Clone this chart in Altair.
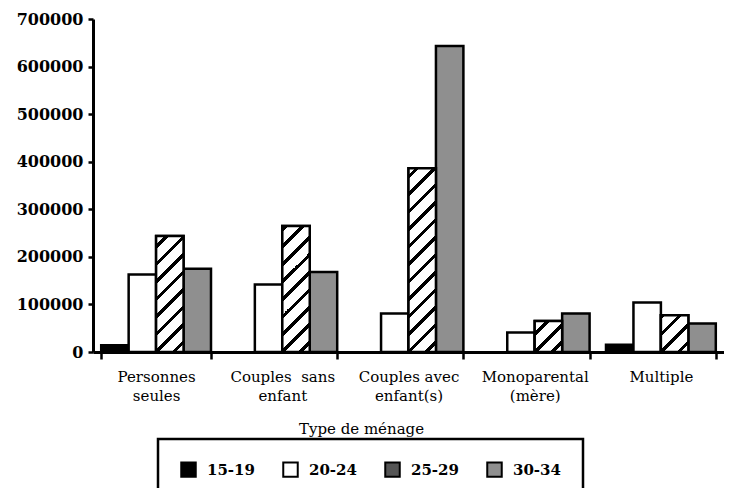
import altair as alt
import pandas as pd

categories = ["Personnes seules", "Couples sans enfant", "Couples avec enfant(s)",
              "Monoparental (mère)", "Multiple"]
label_lines = [["Personnes", "seules"], ["Couples\u00a0\u00a0sans", "enfant"],
               ["Couples avec", "enfant(s)"], ["Monoparental", "(mère)"], ["Multiple"]]
ages = ["15-19", "20-24", "25-29", "30-34"]
v_15_19 = [14000, 0, 0, 0, 15000]
v_20_24 = [163000, 142000, 81000, 41000, 104000]
v_25_29 = [244000, 265000, 386000, 65000, 77000]
v_30_34 = [175000, 168000, 643000, 81000, 60000]
y_ticks = [0, 100000, 200000, 300000, 400000, 500000, 600000, 700000]

W, H = 631, 333
Y_MAX = 700000
P_IN, P_OUT = 0.13, 0.065

series = [v_15_19, v_20_24, v_25_29, v_30_34]
rows = []
for a, vals in zip(ages, series):
    for c, v in zip(categories, vals):
        rows.append({"Type": c, "Age": a, "Valeur": v})
df = pd.DataFrame(rows)

# diagonal hatching for the 25-29 bars, as a linear gradient in bounding-box units
step = W / (len(categories) - P_IN + 2 * P_OUT)
bar_w = step * (1 - P_IN) / len(ages)
PERIOD, HALF = 17.5, 2.3


def hatch(value):
    w = bar_w
    h = max(value / Y_MAX * H, 1.0)
    s = w + h
    stops = []
    c = h
    while c - PERIOD > -HALF:
        c -= PERIOD
    while c - HALF < s:
        a = max(0.0, (c - HALF) / s)
        b = min(1.0, (c + HALF) / s)
        if b > a:
            stops += [{"offset": a, "color": "white"}, {"offset": a, "color": "black"},
                      {"offset": b, "color": "black"}, {"offset": b, "color": "white"}]
        c += PERIOD
    stops = [{"offset": 0, "color": "white"}] + stops + [{"offset": 1, "color": "white"}]
    d = w * w + h * h
    return {"gradient": "linear", "x1": 0, "y1": 0,
            "x2": (w + h) * w / d, "y2": (w + h) * h / d, "stops": stops}


hrows = [{"Type": c, "Age": "25-29", "Valeur": v, "grad": hatch(v)}
         for c, v in zip(categories, v_25_29)]
hdf = pd.DataFrame(hrows)

expr = "''"
for c, lines in zip(categories, label_lines):
    arr = "[" + ",".join("'" + l + "'" for l in lines) + "]"
    expr = f"datum.label == '{c}' ? {arr} : ({expr})"

FONT = "DejaVu Serif"

x_enc = alt.X("Type:N", sort=categories,
              scale=alt.Scale(domain=categories, paddingInner=P_IN, paddingOuter=P_OUT),
              axis=alt.Axis(title="Type de ménage", labelAngle=0, labelExpr=expr,
                            tickBand="extent", tickSize=7, tickWidth=2.5, tickColor="black",
                            domainWidth=3, domainColor="black",
                            labelFont=FONT, labelFontSize=15, labelColor="black",
                            labelPadding=10, labelLineHeight=19, labelBaseline="top",
                            titleFont=FONT, titleFontSize=15, titleFontWeight="normal",
                            titleColor="black", titleX=268, titleY=76,
                            titleBaseline="middle", titleAnchor="start", titleAlign="center"))
xo_enc = alt.XOffset("Age:N", sort=ages, scale=alt.Scale(domain=ages))
y_enc = alt.Y("Valeur:Q", scale=alt.Scale(domain=[0, Y_MAX], nice=False),
              axis=alt.Axis(title=None, values=y_ticks, format="d", grid=False,
                            tickSize=5, tickWidth=2.5, tickColor="black",
                            domainWidth=3, domainColor="black",
                            labelFont=FONT, labelFontSize=16, labelFontWeight="bold",
                            labelColor="black", labelPadding=5))

bars = alt.Chart(df).mark_bar(stroke="black", strokeWidth=2.5).encode(
    x=x_enc, xOffset=xo_enc, y=y_enc,
    fill=alt.Fill("Age:N", sort=ages,
                  scale=alt.Scale(domain=ages, range=["#000000", "#ffffff", "#555555", "#8f8f8f"]),
                  legend=alt.Legend(title=None, orient="none", legendX=65, legendY=420,
                                    direction="horizontal", padding=22,
                                    strokeColor="black",
                                    symbolType="square", symbolSize=210,
                                    symbolStrokeColor="black", symbolStrokeWidth=2,
                                    labelFont=FONT, labelFontSize=15, labelFontWeight="bold",
                                    labelColor="black", labelOffset=10, columnPadding=24)),
).transform_filter("datum.Valeur > 0")

hatched = alt.Chart(hdf).mark_bar(stroke="black", strokeWidth=2.5).encode(
    x=x_enc, xOffset=xo_enc, y=y_enc,
    fill=alt.Fill("grad:N", scale=None, legend=None),
)

chart = alt.layer(bars, hatched).resolve_scale(fill="independent").properties(
    width=W, height=H,
    autosize=alt.AutoSizeParams(type="none"),
    padding={"left": 85, "top": 11, "right": 0, "bottom": 136},
).configure_view(stroke=None).configure_legend(strokeWidth=2.5)

chart.save("out.html", embed_options={"renderer": "svg", "actions": False})
